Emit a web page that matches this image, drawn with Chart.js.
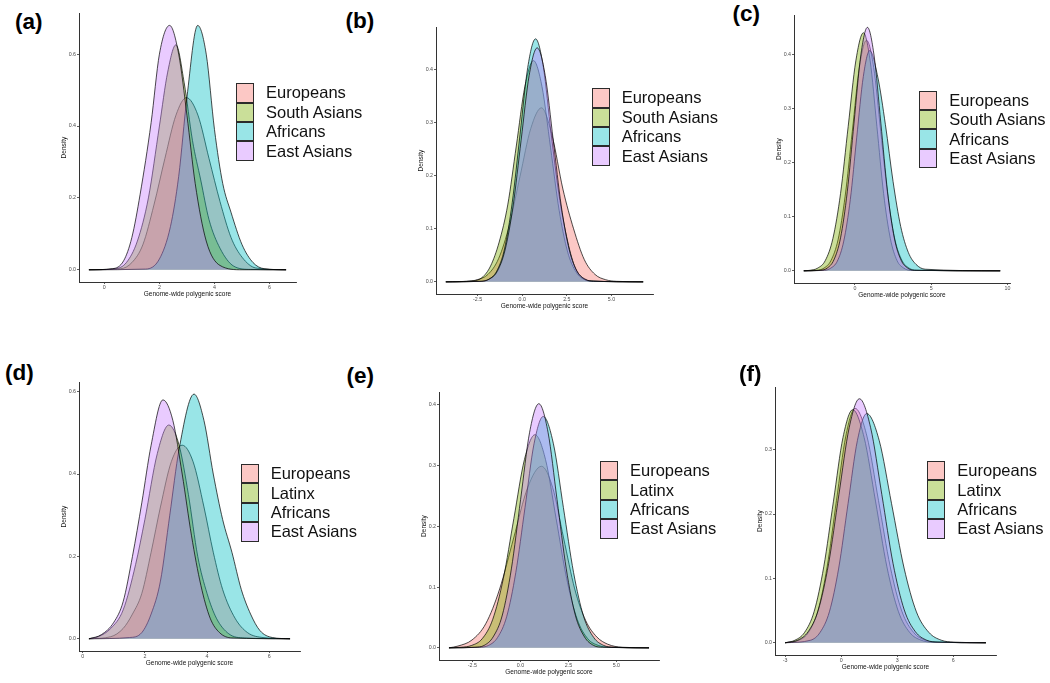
<!DOCTYPE html>
<html><head><meta charset="utf-8">
<script src="https://cdn.jsdelivr.net/npm/chart.js@4.4.1/dist/chart.umd.min.js"></script>
<style>
html,body{margin:0;padding:0;background:#fff;}
body{width:1050px;height:683px;position:relative;overflow:hidden;font-family:"Liberation Sans",Arial,sans-serif;}
canvas{position:absolute;}
.plab{position:absolute;font-weight:bold;font-size:22.5px;line-height:22px;color:#000;white-space:nowrap;}
.leg{position:absolute;}
.row{height:19.4px;display:flex;align-items:center;}
.box{width:18px;height:19.4px;box-sizing:border-box;border:1.6px solid #2b2b2b;flex:none;}
.txt{margin-left:12px;font-size:16.5px;color:#111;white-space:nowrap;}
</style></head><body>
<script>
// ---------- categories ----------
const groupsSA = ["Europeans", "South Asians", "Africans", "East Asians"];
const groupsLat = ["Europeans", "Latinx", "Africans", "East Asians"];
const panelLetters = ["(a)", "(b)", "(c)", "(d)", "(e)", "(f)"];
const xTitle = "Genome-wide polygenic score";
const yTitle = "Density";

// ---------- panel (a) ----------
const aEurX = [-0.56, 0.6, 1.0, 1.4, 1.8, 2.2, 2.6, 2.98, 3.4, 3.8, 4.2, 4.6, 5.0, 5.5, 6.6];
const aEurY = [0, 0.003, 0.02, 0.07, 0.18, 0.31, 0.43, 0.479, 0.43, 0.31, 0.19, 0.09, 0.035, 0.005, 0];
const aSasX = [-0.56, 0.4, 0.8, 1.2, 1.6, 2.0, 2.3, 2.6, 2.9, 3.2, 3.5, 3.8, 4.2, 4.7, 5.3, 6.6];
const aSasY = [0, 0.003, 0.02, 0.08, 0.2, 0.4, 0.55, 0.626, 0.52, 0.36, 0.25, 0.14, 0.06, 0.01, 0.001, 0];
const aAfrX = [-0.56, 1.5, 2.0, 2.4, 2.7, 3.0, 3.39, 3.7, 4.0, 4.3, 4.6, 5.0, 5.4, 5.8, 6.6];
const aAfrY = [0, 0.002, 0.03, 0.12, 0.26, 0.48, 0.68, 0.6, 0.39, 0.24, 0.16, 0.07, 0.02, 0.003, 0];
const aEasX = [-0.56, 0.3, 0.7, 1.0, 1.3, 1.7, 2.0, 2.37, 2.7, 3.0, 3.3, 3.7, 4.2, 5.0, 6.6];
const aEasY = [0, 0.003, 0.025, 0.09, 0.21, 0.41, 0.6, 0.68, 0.6, 0.43, 0.24, 0.08, 0.012, 0, 0];
const aXTicks = [0, 2, 4, 6], aXLabels = ["0", "2", "4", "6"];
const aYTicks = [0, 0.2, 0.4, 0.6], aYLabels = ["0.0", "0.2", "0.4", "0.6"];
const aXRange = [-0.92, 6.96], aYRange = [-0.034, 0.714];

// ---------- panel (b) ----------
const bEurX = [-4.28, -3.12, -2.52, -1.92, -1.32, -0.72, -0.12, 0.48, 1.08, 1.68, 2.28, 2.88, 3.48, 4.08, 4.68, 5.28, 6.78];
const bEurY = [0, 0.001, 0.004, 0.014, 0.044, 0.107, 0.199, 0.289, 0.328, 0.275, 0.175, 0.1, 0.042, 0.014, 0.004, 0.001, 0];
const bSasX = [-4.28, -2.73, -2.25, -1.77, -1.29, -0.81, -0.33, 0.15, 0.63, 1.11, 1.59, 2.07, 2.55, 3.03, 3.51, 3.99, 6.78];
const bSasY = [0, 0.002, 0.008, 0.03, 0.075, 0.145, 0.256, 0.368, 0.417, 0.368, 0.253, 0.135, 0.056, 0.018, 0.004, 0.001, 0];
const bAfrX = [-4.28, -2.3, -1.86, -1.43, -0.99, -0.56, -0.12, 0.31, 0.75, 1.19, 1.62, 2.06, 2.49, 2.93, 3.36, 3.8, 6.78];
const bAfrY = [0, 0.001, 0.005, 0.02, 0.062, 0.149, 0.278, 0.404, 0.458, 0.404, 0.28, 0.165, 0.085, 0.03, 0.008, 0.002, 0];
const bEasX = [-4.28, -2.31, -1.86, -1.41, -0.96, -0.51, -0.06, 0.39, 0.84, 1.29, 1.74, 2.19, 2.64, 3.09, 3.54, 3.99, 6.78];
const bEasY = [0, 0.001, 0.005, 0.019, 0.06, 0.143, 0.267, 0.389, 0.441, 0.389, 0.267, 0.143, 0.06, 0.019, 0.005, 0.001, 0];
const bXTicks = [-2.5, 0, 2.5, 5], bXLabels = ["-2.5", "0.0", "2.5", "5.0"];
const bYTicks = [0, 0.1, 0.2, 0.3, 0.4], bYLabels = ["0.0", "0.1", "0.2", "0.3", "0.4"];
const bXRange = [-4.83, 7.33], bYRange = [-0.0229, 0.48];

// ---------- panel (c) ----------
const cEurX = [-3.35, -2.5, -2.03, -1.57, -1.1, -0.64, -0.17, 0.29, 0.76, 1.23, 1.69, 2.16, 2.62, 3.09, 3.55, 4.02, 9.52];
const cEurY = [0, 0.001, 0.005, 0.019, 0.058, 0.138, 0.258, 0.376, 0.426, 0.376, 0.258, 0.138, 0.058, 0.019, 0.005, 0.001, 0];
const cSasX = [-3.35, -2.94, -2.44, -1.94, -1.44, -0.94, -0.44, 0.06, 0.56, 1.0, 1.44, 1.88, 2.32, 2.76, 3.2, 3.64, 9.52];
const cSasY = [0, 0.001, 0.005, 0.019, 0.06, 0.143, 0.267, 0.388, 0.44, 0.388, 0.267, 0.143, 0.06, 0.019, 0.005, 0.001, 0];
const cAfrX = [-3.35, -2.0, -1.58, -1.15, -0.73, -0.3, 0.12, 0.55, 0.97, 1.5, 2.0, 2.5, 3.0, 3.5, 4.0, 4.6, 9.52];
const cAfrY = [0, 0.001, 0.005, 0.018, 0.055, 0.132, 0.247, 0.359, 0.407, 0.358, 0.27, 0.165, 0.082, 0.034, 0.012, 0.003, 0];
const cEasX = [-3.35, -2.26, -1.82, -1.38, -0.94, -0.5, -0.06, 0.38, 0.82, 1.26, 1.7, 2.14, 2.58, 3.02, 3.46, 3.9, 9.52];
const cEasY = [0, 0.001, 0.005, 0.02, 0.061, 0.146, 0.273, 0.397, 0.45, 0.397, 0.273, 0.146, 0.061, 0.02, 0.005, 0.001, 0];
const cXTicks = [0, 5, 10], cXLabels = ["0", "5", "10"];
const cYTicks = [0, 0.1, 0.2, 0.3, 0.4], cYLabels = ["0.0", "0.1", "0.2", "0.3", "0.4"];
const cXRange = [-3.99, 10.16], cYRange = [-0.0225, 0.4725];

// ---------- panel (d) ----------
const dEurX = [0.2, 0.9, 1.3, 1.6, 1.9, 2.2, 2.5, 2.85, 3.2, 3.55, 3.9, 4.2, 4.5, 4.9, 5.3, 5.8, 6.67];
const dEurY = [0, 0.005, 0.025, 0.06, 0.11, 0.21, 0.32, 0.43, 0.47, 0.43, 0.32, 0.21, 0.12, 0.05, 0.015, 0.003, 0];
const dLatX = [0.2, 0.5, 0.9, 1.3, 1.7, 2.0, 2.4, 2.77, 3.1, 3.4, 3.7, 4.0, 4.3, 4.7, 5.2, 6.67];
const dLatY = [0, 0.005, 0.025, 0.07, 0.18, 0.29, 0.45, 0.519, 0.47, 0.35, 0.2, 0.11, 0.05, 0.012, 0.002, 0];
const dAfrX = [0.2, 1.5, 1.9, 2.2, 2.5, 2.8, 3.1, 3.58, 3.9, 4.2, 4.5, 4.8, 5.1, 5.4, 5.7, 6.1, 6.67];
const dAfrY = [0, 0.003, 0.015, 0.06, 0.14, 0.3, 0.46, 0.594, 0.53, 0.4, 0.29, 0.21, 0.12, 0.06, 0.02, 0.003, 0];
const dEasX = [0.2, 0.6, 1.0, 1.3, 1.6, 1.9, 2.2, 2.58, 2.9, 3.2, 3.5, 3.8, 4.1, 4.4, 4.8, 6.67];
const dEasY = [0, 0.01, 0.04, 0.09, 0.2, 0.33, 0.47, 0.58, 0.53, 0.4, 0.25, 0.13, 0.05, 0.015, 0.002, 0];
const dXTicks = [0, 2, 4, 6], dXLabels = ["0", "2", "4", "6"];
const dYTicks = [0, 0.2, 0.4, 0.6], dYLabels = ["0.0", "0.2", "0.4", "0.6"];
const dXRange = [-0.12, 6.99], dYRange = [-0.0297, 0.623];

// ---------- panel (e) ----------
const eEurX = [-3.72, -3.25, -2.52, -1.8, -1.08, -0.35, 0.38, 1.1, 1.68, 2.25, 2.83, 3.4, 3.98, 4.55, 5.3, 6.7];
const eEurY = [0, 0.003, 0.013, 0.04, 0.097, 0.181, 0.264, 0.299, 0.264, 0.181, 0.097, 0.045, 0.018, 0.006, 0.001, 0];
const eLatX = [-3.72, -3.09, -2.54, -1.99, -1.44, -0.89, -0.34, 0.21, 0.76, 1.31, 1.86, 2.41, 2.96, 3.51, 4.06, 4.61, 6.7];
const eLatY = [0, 0.001, 0.004, 0.015, 0.047, 0.114, 0.213, 0.31, 0.351, 0.31, 0.213, 0.114, 0.047, 0.015, 0.004, 0.001, 0];
const eAfrX = [-3.72, -2.14, -1.66, -1.19, -0.71, -0.24, 0.24, 0.71, 1.19, 1.72, 2.24, 2.77, 3.29, 3.82, 4.34, 4.87, 6.7];
const eAfrY = [0, 0.001, 0.004, 0.017, 0.052, 0.124, 0.231, 0.336, 0.381, 0.336, 0.231, 0.124, 0.052, 0.017, 0.004, 0.001, 0];
const eEasX = [-3.72, -2.37, -1.89, -1.42, -0.94, -0.47, 0.01, 0.48, 0.96, 1.44, 1.91, 2.39, 2.86, 3.34, 3.81, 4.29, 6.7];
const eEasY = [0, 0.001, 0.004, 0.018, 0.054, 0.13, 0.244, 0.355, 0.402, 0.355, 0.244, 0.13, 0.054, 0.018, 0.004, 0.001, 0];
const eXTicks = [-2.5, 0, 2.5, 5], eXLabels = ["-2.5", "0.0", "2.5", "5.0"];
const eYTicks = [0, 0.1, 0.2, 0.3, 0.4], eYLabels = ["0.0", "0.1", "0.2", "0.3", "0.4"];
const eXRange = [-4.24, 7.22], eYRange = [-0.02, 0.421];

// ---------- panel (f) ----------
const fEurX = [-3.0, -2.25, -1.75, -1.25, -0.75, -0.25, 0.25, 0.75, 1.38, 2.0, 2.63, 3.25, 3.88, 4.5, 5.13, 7.75];
const fEurY = [0, 0.004, 0.016, 0.049, 0.118, 0.221, 0.321, 0.364, 0.321, 0.221, 0.118, 0.049, 0.016, 0.004, 0.001, 0];
const fLatX = [-3.0, -2.47, -1.96, -1.44, -0.93, -0.41, 0.1, 0.62, 1.23, 1.84, 2.45, 3.06, 3.67, 4.28, 4.89, 7.75];
const fLatY = [0, 0.004, 0.016, 0.049, 0.118, 0.22, 0.319, 0.362, 0.319, 0.22, 0.118, 0.049, 0.016, 0.004, 0.001, 0];
const fAfrX = [-3.0, -1.63, -1.13, -0.63, -0.13, 0.37, 0.87, 1.37, 2.04, 2.7, 3.37, 4.03, 4.7, 5.36, 6.03, 7.75];
const fAfrY = [0, 0.004, 0.016, 0.048, 0.116, 0.216, 0.314, 0.356, 0.314, 0.216, 0.116, 0.048, 0.016, 0.004, 0.001, 0];
const fEasX = [-3.0, -2.32, -1.77, -1.22, -0.67, -0.12, 0.43, 0.98, 1.58, 2.18, 2.78, 3.38, 3.98, 4.58, 5.18, 7.75];
const fEasY = [0, 0.004, 0.017, 0.051, 0.123, 0.23, 0.334, 0.379, 0.334, 0.23, 0.123, 0.051, 0.017, 0.004, 0.001, 0];
const fXTicks = [-3, 0, 3, 6], fXLabels = ["-3", "0", "3", "6"];
const fYTicks = [0, 0.1, 0.2, 0.3], fYLabels = ["0.0", "0.1", "0.2", "0.3"];
const fXRange = [-3.54, 8.29], fYRange = [-0.019, 0.397];

// ---------- styling ----------
const FILL = ['rgba(248,118,109,0.4)', 'rgba(124,174,0,0.4)', 'rgba(0,191,196,0.4)', 'rgba(199,124,255,0.4)'];
const SWATCH = ['#fcc8c5', '#cadf99', '#99e5e7', '#e9cbff'];
Chart.defaults.font.family = '"Liberation Sans", Arial, sans-serif';

const panels = [
  {g: groupsSA, s: [[aEurX, aEurY], [aSasX, aSasY], [aAfrX, aAfrY], [aEasX, aEasY]], xt: aXTicks, xl: aXLabels, yt: aYTicks, yl: aYLabels, xr: aXRange, yr: aYRange,
   L: 79, T: 13, R: 296, B: 282, lab: [15, 11], leg: [236, 83.3]},
  {g: groupsSA, s: [[bEurX, bEurY], [bSasX, bSasY], [bAfrX, bAfrY], [bEasX, bEasY]], xt: bXTicks, xl: bXLabels, yt: bYTicks, yl: bYLabels, xr: bXRange, yr: bYRange,
   L: 436, T: 27, R: 653, B: 294, lab: [345.5, 9.5], leg: [591.7, 88.3]},
  {g: groupsSA, s: [[cEurX, cEurY], [cSasX, cSasY], [cAfrX, cAfrY], [cEasX, cEasY]], xt: cXTicks, xl: cXLabels, yt: cYTicks, yl: cYLabels, xr: cXRange, yr: cYRange,
   L: 794, T: 15, R: 1010, B: 283, lab: [732.5, 2.8], leg: [919.3, 90.7]},
  {g: groupsLat, s: [[dEurX, dEurY], [dLatX, dLatY], [dAfrX, dAfrY], [dEasX, dEasY]], xt: dXTicks, xl: dXLabels, yt: dYTicks, yl: dYLabels, xr: dXRange, yr: dYRange,
   L: 79, T: 382, R: 300, B: 651, lab: [5, 361.5], leg: [240.7, 464]},
  {g: groupsLat, s: [[eEurX, eEurY], [eLatX, eLatY], [eAfrX, eAfrY], [eEasX, eEasY]], xt: eXTicks, xl: eXLabels, yt: eYTicks, yl: eYLabels, xr: eXRange, yr: eYRange,
   L: 439, T: 392, R: 659, B: 660, lab: [346.5, 364.5], leg: [600, 461]},
  {g: groupsLat, s: [[fEurX, fEurY], [fLatX, fLatY], [fAfrX, fAfrY], [fEasX, fEasY]], xt: fXTicks, xl: fXLabels, yt: fYTicks, yl: fYLabels, xr: fXRange, yr: fYRange,
   L: 775, T: 387, R: 996, B: 655, lab: [739, 363], leg: [927.3, 461]}
];

function pts(xs, ys) { return xs.map((x, i) => ({x: x, y: ys[i]})); }

function makePanel(p, idx) {
  const YW = 19, XH = 16, PT = 4, PR = 4;
  const cv = document.createElement('canvas');
  const w = p.R - p.L + YW + PR, h = p.B - p.T + PT + XH;
  cv.width = w; cv.height = h;
  cv.style.left = (p.L - YW) + 'px'; cv.style.top = (p.T - PT) + 'px';
  cv.style.width = w + 'px'; cv.style.height = h + 'px';
  document.body.appendChild(cv);
  const tickFont = {size: 5.3};
  const titleFont = {size: 6.5};
  new Chart(cv, {
    type: 'line',
    data: {datasets: p.s.map((s, i) => ({
      label: p.g[i], data: pts(s[0], s[1]), order: 4 - i,
      backgroundColor: FILL[i], borderColor: 'rgba(0,0,0,0.88)', borderWidth: 0.8,
      fill: 'origin', pointRadius: 0, pointHoverRadius: 0, cubicInterpolationMode: 'monotone'
    }))},
    options: {
      responsive: false, animation: false, devicePixelRatio: 1,
      layout: {padding: {top: PT, right: PR, left: 0, bottom: 0}},
      plugins: {legend: {display: false}, tooltip: {enabled: false}},
      scales: {
        x: {type: 'linear', min: p.xr[0], max: p.xr[1],
          afterBuildTicks: s => { s.ticks = p.xt.map(v => ({value: v})); },
          afterFit: s => { s.height = XH; },
          ticks: {autoSkip: false, maxRotation: 0, padding: 0, color: '#4d4d4d', font: tickFont,
                  callback: (v, i) => p.xl[i]},
          grid: {drawOnChartArea: false, tickLength: 2, color: '#333', lineWidth: 0.8},
          border: {display: true, color: '#333', width: 1},
          title: {display: true, text: xTitle, color: '#111', font: titleFont, padding: 0}
        },
        y: {type: 'linear', min: p.yr[0], max: p.yr[1],
          afterBuildTicks: s => { s.ticks = p.yt.map(v => ({value: v})); },
          afterFit: s => { s.width = YW; },
          ticks: {autoSkip: false, padding: 1, color: '#4d4d4d', font: tickFont,
                  callback: (v, i) => p.yl[i]},
          grid: {drawOnChartArea: false, tickLength: 2, color: '#333', lineWidth: 0.8},
          border: {display: true, color: '#333', width: 1},
          title: {display: true, text: yTitle, color: '#111', font: titleFont, padding: 0}
        }
      }
    }
  });
  const lab = document.createElement('div');
  lab.className = 'plab'; lab.textContent = panelLetters[idx];
  lab.style.left = p.lab[0] + 'px'; lab.style.top = p.lab[1] + 'px';
  document.body.appendChild(lab);
  const leg = document.createElement('div');
  leg.className = 'leg'; leg.style.left = p.leg[0] + 'px'; leg.style.top = p.leg[1] + 'px';
  p.g.forEach((name, i) => {
    const row = document.createElement('div'); row.className = 'row';
    const b = document.createElement('div'); b.className = 'box'; b.style.background = SWATCH[i];
    const t = document.createElement('span'); t.className = 'txt'; t.textContent = name;
    row.appendChild(b); row.appendChild(t); leg.appendChild(row);
  });
  document.body.appendChild(leg);
}
panels.forEach(makePanel);
</script>
</body></html>
